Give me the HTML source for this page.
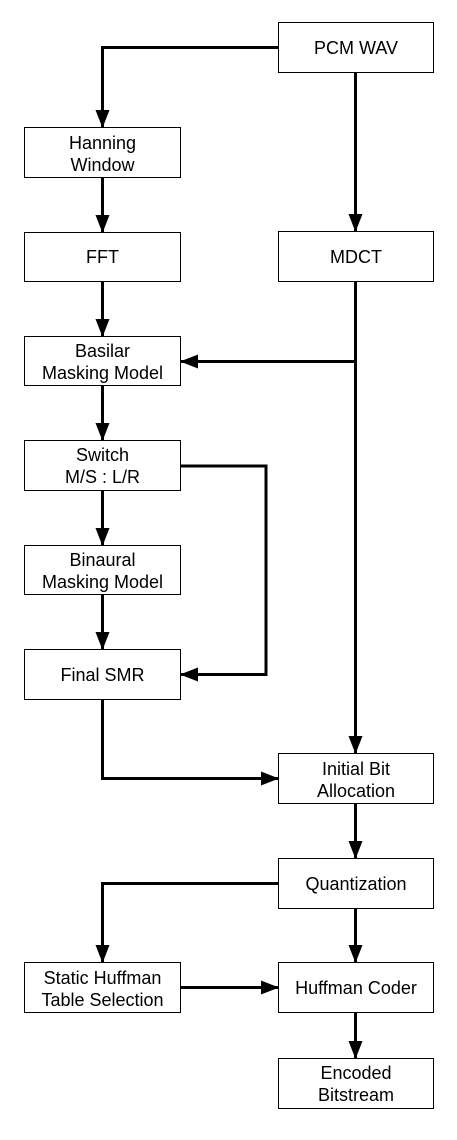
<!DOCTYPE html>
<html><head><meta charset="utf-8"><style>
html,body{margin:0;padding:0;background:#fff;}
svg{display:block;}
text{font-family:"Liberation Sans",Arial,sans-serif;font-size:18px;fill:#000;text-anchor:middle;}
</style></head><body>
<svg width="457" height="1140" viewBox="0 0 457 1140" xmlns="http://www.w3.org/2000/svg">
<defs>
<marker id="a" markerWidth="18" markerHeight="14" refX="17" refY="7" orient="auto" markerUnits="userSpaceOnUse">
<path d="M0,0 L18,7 L0,14 Z" fill="#000"/>
</marker>
</defs>
<g fill="#fff" stroke="#000" stroke-width="1">
<rect x="278.5" y="22.5" width="155" height="50"/>
<rect x="24.5" y="127.5" width="156" height="50"/>
<rect x="24.5" y="232.5" width="156" height="49"/>
<rect x="278.5" y="231.5" width="155" height="50"/>
<rect x="24.5" y="336.5" width="156" height="49"/>
<rect x="24.5" y="440.5" width="156" height="50"/>
<rect x="24.5" y="545.5" width="156" height="49"/>
<rect x="24.5" y="649.5" width="156" height="50"/>
<rect x="278.5" y="753.5" width="155" height="50"/>
<rect x="278.5" y="858.5" width="155" height="50"/>
<rect x="24.5" y="962.5" width="156" height="50"/>
<rect x="278.5" y="962.5" width="155" height="50"/>
<rect x="278.5" y="1058.5" width="155" height="50"/>
</g>
<g fill="none" stroke="#000" stroke-width="3">
<polyline points="278,47.5 102.5,47.5 102.5,127" marker-end="url(#a)"/>
<line x1="355.5" y1="73" x2="355.5" y2="231" marker-end="url(#a)"/>
<line x1="102.5" y1="178" x2="102.5" y2="232" marker-end="url(#a)"/>
<line x1="102.5" y1="282" x2="102.5" y2="336" marker-end="url(#a)"/>
<line x1="355.5" y1="282" x2="355.5" y2="753" marker-end="url(#a)"/>
<line x1="355.5" y1="361.5" x2="181" y2="361.5" marker-end="url(#a)"/>
<line x1="102.5" y1="386" x2="102.5" y2="440" marker-end="url(#a)"/>
<polyline points="181,466 266,466 266,674.5 181,674.5" marker-end="url(#a)"/>
<line x1="102.5" y1="491" x2="102.5" y2="545" marker-end="url(#a)"/>
<line x1="102.5" y1="595" x2="102.5" y2="649" marker-end="url(#a)"/>
<polyline points="102.5,700 102.5,778.5 278,778.5" marker-end="url(#a)"/>
<line x1="355.5" y1="804" x2="355.5" y2="858" marker-end="url(#a)"/>
<polyline points="278,883.5 102.5,883.5 102.5,962" marker-end="url(#a)"/>
<line x1="355.5" y1="909" x2="355.5" y2="962" marker-end="url(#a)"/>
<line x1="181" y1="987.5" x2="278" y2="987.5" marker-end="url(#a)"/>
<line x1="355.5" y1="1013" x2="355.5" y2="1058" marker-end="url(#a)"/>
</g>
<text x="356" y="54">PCM WAV</text>
<text x="102.5" y="149">Hanning</text><text x="102.5" y="171">Window</text>
<text x="102.5" y="263">FFT</text>
<text x="356" y="263">MDCT</text>
<text x="102.5" y="357">Basilar</text><text x="102.5" y="379">Masking Model</text>
<text x="102.5" y="461">Switch</text><text x="102.5" y="483">M/S : L/R</text>
<text x="102.5" y="566">Binaural</text><text x="102.5" y="588">Masking Model</text>
<text x="102.5" y="681">Final SMR</text>
<text x="356" y="775">Initial Bit</text><text x="356" y="797">Allocation</text>
<text x="356" y="890">Quantization</text>
<text x="102.5" y="984">Static Huffman</text><text x="102.5" y="1006">Table Selection</text>
<text x="356" y="994">Huffman Coder</text>
<text x="356" y="1079">Encoded</text><text x="356" y="1101">Bitstream</text>
</svg>
</body></html>
